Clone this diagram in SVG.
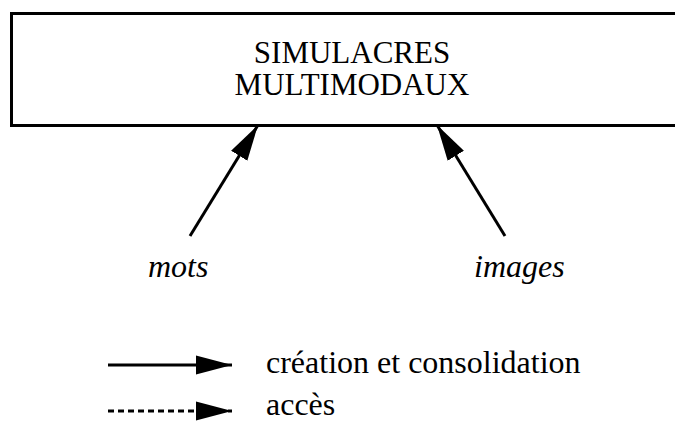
<svg xmlns="http://www.w3.org/2000/svg" width="675" height="421" viewBox="0 0 675 421">
  <style>
    .t { font-family: "Liberation Serif", "Times New Roman", serif; font-size: 32px; fill: #000; }
    .h { font-size: 31px; }
    .i { font-style: italic; }
    .ln { stroke: #000; stroke-width: 3; fill: none; }
  </style>
  <defs>
    <marker id="ah" markerWidth="36" markerHeight="20" refX="36" refY="10" orient="auto" markerUnits="userSpaceOnUse">
      <path d="M0,0.5 L36,10 L0,19.5 Z" fill="#000"/>
    </marker>
  </defs>
  <rect width="675" height="421" fill="#fff"/>
  <g id="simulacres">
    <rect x="11.5" y="13.5" width="700" height="112" fill="none" stroke="#000" stroke-width="3"/>
    <text class="t h" x="352" y="63" text-anchor="middle">SIMULACRES</text>
    <text class="t h" x="352" y="95" text-anchor="middle">MULTIMODAUX</text>
  </g>
  <g id="mots">
    <text class="t i" x="148" y="277">mots</text>
  </g>
  <g id="images">
    <text class="t i" x="474" y="277">images</text>
  </g>
  <g id="connectors">
    <line class="ln" x1="190" y1="236" x2="258" y2="125" marker-end="url(#ah)"/>
    <line class="ln" x1="505" y1="236" x2="437" y2="125" marker-end="url(#ah)"/>
  </g>
  <g id="legend">
    <line class="ln" x1="108" y1="365" x2="232" y2="365" marker-end="url(#ah)"/>
    <text class="t" x="266" y="373">création et consolidation</text>
    <line class="ln" x1="108" y1="411" x2="232" y2="411" stroke-dasharray="6 4" marker-end="url(#ah)"/>
    <text class="t" x="266" y="415">accès</text>
  </g>
</svg>
